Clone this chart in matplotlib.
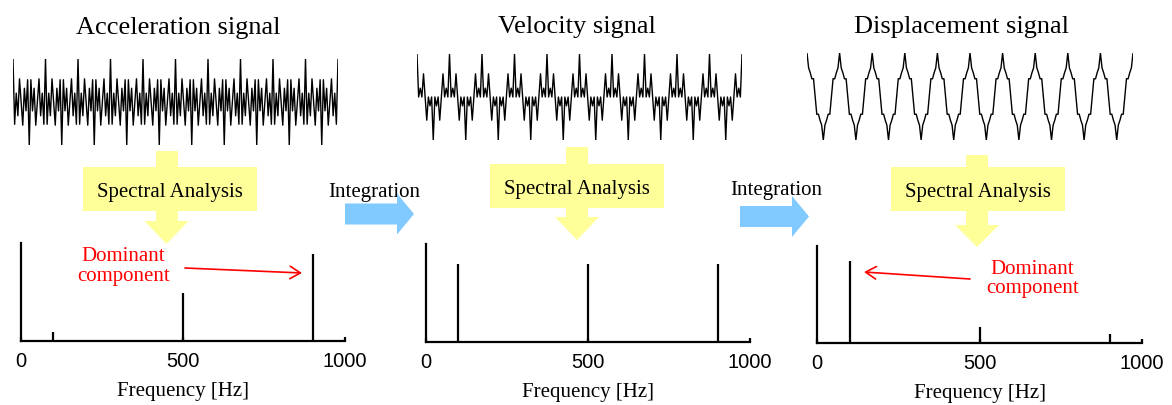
import numpy as np
import matplotlib
matplotlib.use("Agg")
import matplotlib.pyplot as plt
from matplotlib.patches import Polygon, Rectangle

# ---- data -------------------------------------------------------------
freqs_hz = [100, 500, 900]
accel_amp = [0.09, 0.49, 0.89]
veloc_amp = [0.80, 0.80, 0.80]
displ_amp = [0.85, 0.16, 0.09]
freq_ticks = [0, 500, 1000]
freq_tick_labels = ["0", "500", "1000"]
titles = ["Acceleration signal", "Velocity signal", "Displacement signal"]
duration_s = 0.1
sample_rate_hz = 2000

W, H = 1172, 405
SERIF = ["Liberation Serif", "DejaVu Serif"]
SANS = ["Liberation Sans", "DejaVu Sans"]
YELLOW = "#FFFF99"
BLUE = "#80CAFF"
RED = "#FF0000"

fig = plt.figure(figsize=(W / 100, H / 100), dpi=100)


def px_axes(x0, y0, x1, y1, **kw):
    """Axes placed by pixel box (top-left origin)."""
    return fig.add_axes([x0 / W, 1 - y1 / H, (x1 - x0) / W, (y1 - y0) / H], **kw)


def synth(amps):
    n = int(round(duration_s * sample_rate_hz)) + 1
    t = np.linspace(0, duration_s, n)
    y = np.zeros_like(t)
    for f, a in zip(freqs_hz, amps):
        y += a * np.cos(2 * np.pi * f * t)
    return t, y


# ---- time signals -----------------------------------------------------
signal_boxes = [(13, 59, 338, 145), (417, 54, 742, 140), (807, 53, 1133, 140)]
for box, amps in zip(signal_boxes, [accel_amp, veloc_amp, displ_amp]):
    ax = px_axes(*box)
    t, y = synth(amps)
    ax.plot(t, y, color="black", lw=1.0)
    ax.set_xlim(t[0], t[-1])
    ax.set_ylim(y.min(), y.max())
    ax.axis("off")

# ---- spectra ----------------------------------------------------------
spec_boxes = [(21, 243, 345, 341), (426, 244, 750, 342), (817, 246, 1142, 343)]
for box, amps in zip(spec_boxes, [accel_amp, veloc_amp, displ_amp]):
    ax = px_axes(*box)
    ax.patch.set_alpha(0)
    ax.vlines(freqs_hz, 0, amps, color="black", lw=1.6)
    ax.set_xlim(0, 1000)
    ax.set_ylim(0, 1.0)
    for s in ("top", "right"):
        ax.spines[s].set_visible(False)
    for s in ("left", "bottom"):
        ax.spines[s].set_linewidth(1.6)
    ax.set_yticks([])
    ax.set_xticks(freq_ticks)
    ax.set_xticklabels(freq_tick_labels, family=SANS, fontsize=14.5)
    ax.tick_params(axis="x", direction="in", length=3, width=1.6, pad=8)
    ax.set_xlabel("Frequency [Hz]", family=SERIF, fontsize=15, labelpad=8)

# ---- overlay: titles, flow arrows, annotations -------------------------
ov = fig.add_axes([0, 0, 1, 1])
ov.set_xlim(0, W)
ov.set_ylim(H, 0)
ov.axis("off")
ov.patch.set_alpha(0)

for cx, base, txt in zip([178, 577, 962], [34, 33, 33], titles):
    ov.text(cx, base, txt, family=SERIF, fontsize=19, ha="center", va="baseline")


def spectral_block(cx, stem_top, r_x0, r_x1, r_y0, r_y1, tri_y0, tri_y1, text_base):
    stem_hw, tri_hw = 11, 22
    ov.add_patch(Rectangle((cx - stem_hw, stem_top), 2 * stem_hw, r_y0 - stem_top,
                           color=YELLOW, lw=0, zorder=1))
    ov.add_patch(Rectangle((r_x0, r_y0), r_x1 - r_x0, r_y1 - r_y0,
                           color=YELLOW, lw=0, zorder=1))
    ov.add_patch(Rectangle((cx - stem_hw, r_y1), 2 * stem_hw, tri_y0 - r_y1 + 0.5,
                           color=YELLOW, lw=0, zorder=1))
    ov.add_patch(Polygon([(cx - tri_hw, tri_y0), (cx + tri_hw, tri_y0), (cx, tri_y1)],
                         closed=True, color=YELLOW, lw=0, zorder=1))
    ov.text((r_x0 + r_x1) / 2, text_base, "Spectral Analysis", family=SERIF,
            fontsize=15, ha="center", va="baseline", zorder=2)


spectral_block(166.5, 151, 83, 257, 167, 211, 221, 244, 197)
spectral_block(577, 147, 490, 664, 164, 208, 217, 240, 194)
spectral_block(977, 155, 891, 1065, 167, 211, 225, 247, 197)


def integration_arrow(x0, x_head, x_tip, y_mid, text_cx, text_base):
    ov.text(text_cx, text_base, "Integration", family=SERIF, fontsize=15,
            ha="center", va="baseline", zorder=2)
    body_hh, head_hh = 10.5, 20.5
    ov.add_patch(Polygon([(x0, y_mid - body_hh), (x_head, y_mid - body_hh),
                          (x_head, y_mid - head_hh), (x_tip, y_mid),
                          (x_head, y_mid + head_hh), (x_head, y_mid + body_hh),
                          (x0, y_mid + body_hh)],
                         closed=True, color=BLUE, lw=0, zorder=3))


integration_arrow(345, 397, 414, 214, 374, 197)
integration_arrow(740, 792, 809, 216.5, 776, 195)

for cx, b1, b2 in [(123.5, 261, 281), (1032.5, 274, 293)]:
    ov.text(cx, b1, "Dominant", family=SERIF, fontsize=15, color=RED,
            ha="center", va="baseline")
    ov.text(cx, b2, "component", family=SERIF, fontsize=15, color=RED,
            ha="center", va="baseline")

arrow_kw = dict(arrowstyle="->,head_length=0.75,head_width=0.45", color=RED, lw=1.2,
                shrinkA=0, shrinkB=0)
ov.annotate("", xy=(302, 273), xytext=(185, 268), arrowprops=arrow_kw)
ov.annotate("", xy=(864, 272), xytext=(970, 279), arrowprops=arrow_kw)

fig.savefig("out.png", dpi=100)
